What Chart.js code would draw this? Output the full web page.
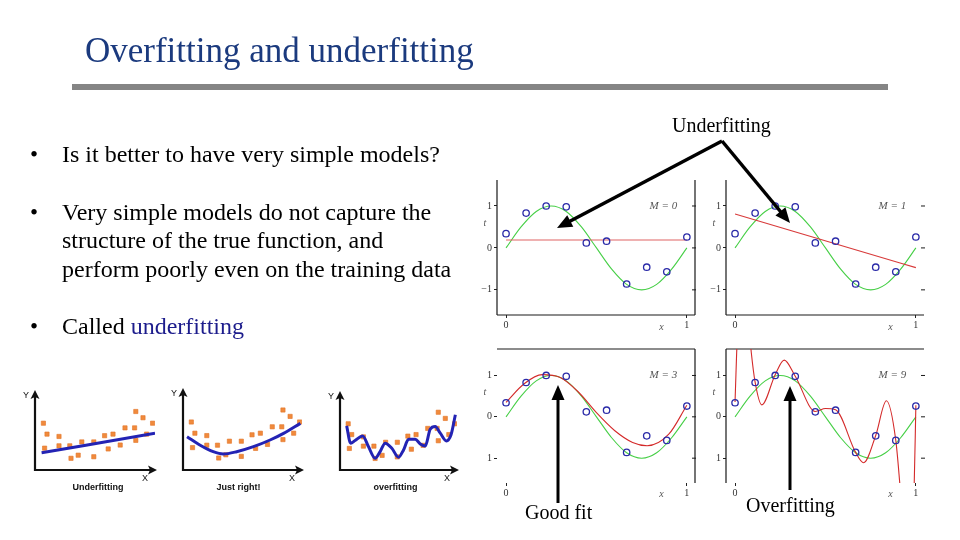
<!DOCTYPE html>
<html>
<head>
<meta charset="utf-8">
<script src="https://cdn.jsdelivr.net/npm/chart.js@4"></script>
<style>
  body { margin:0; width:960px; height:540px; overflow:hidden; position:relative; background:#fff;
         font-family:'Liberation Serif','Times New Roman',serif; }
  .t { position:absolute; white-space:nowrap; line-height:1; color:#000; z-index:6; }
  canvas { position:absolute; }
</style>
</head>
<body>
<div class="t" style="left:85px;top:33px;font-size:35px;color:#1b3a7e">Overfitting and underfitting</div>
<div style="position:absolute;left:72px;top:84px;width:816px;height:6px;background:#858585"></div>

<div class="t" style="left:30px;top:143px;font-size:23px">•</div>
<div class="t" style="left:62px;top:142px;font-size:24px">Is it better to have very simple models?</div>
<div class="t" style="left:30px;top:201px;font-size:23px">•</div>
<div class="t" style="left:62px;top:200px;font-size:24px">Very simple models do not capture the</div>
<div class="t" style="left:62px;top:228px;font-size:24px">structure of the true function, and</div>
<div class="t" style="left:62px;top:257px;font-size:24px">perform poorly even on the training data</div>
<div class="t" style="left:30px;top:315px;font-size:23px">•</div>
<div class="t" style="left:62px;top:314px;font-size:24px">Called <span style="color:#1c1c8c">underfitting</span></div>

<div class="t" style="left:672px;top:115px;font-size:20px">Underfitting</div>
<div class="t" style="left:525px;top:502px;font-size:20px">Good fit</div>
<div class="t" style="left:746px;top:495px;font-size:20px">Overfitting</div>

<canvas id="m0" width="225" height="165" style="left:478px;top:172px"></canvas>
<canvas id="m1" width="225" height="165" style="left:707px;top:172px"></canvas>
<canvas id="m3" width="225" height="165" style="left:478px;top:341px"></canvas>
<canvas id="m9" width="225" height="165" style="left:707px;top:341px"></canvas>

<canvas id="s1" width="145" height="115" style="left:20px;top:380px"></canvas>
<canvas id="s2" width="145" height="115" style="left:170px;top:380px"></canvas>
<canvas id="s3" width="145" height="115" style="left:320px;top:380px"></canvas>

<canvas id="arrows" width="960" height="540" style="left:0;top:0;z-index:5"></canvas>

<script>
// training points (blue circles)
const trainX = [0, 0.111, 0.222, 0.333, 0.444, 0.556, 0.667, 0.778, 0.889, 1];
const trainT = [0.34, 0.83, 1.0, 0.98, 0.12, 0.16, -0.86, -0.46, -0.57, 0.26];
// true function (green)
const trueX = [0, 0.083, 0.167, 0.25, 0.333, 0.417, 0.5, 0.583, 0.667, 0.75, 0.833, 0.917, 1];
const trueT = [0, 0.5, 0.87, 1, 0.87, 0.5, 0, -0.5, -0.87, -1, -0.87, -0.5, 0];
// fitted polynomials (red)
const fit0X = [0, 1];
const fit0Y = [0.19, 0.19];
const fit1X = [0, 1];
const fit1Y = [0.81, -0.47];
const fit3X = [0, 0.1, 0.2, 0.3, 0.4, 0.5, 0.6, 0.7, 0.78, 0.9, 1];
const fit3Y = [0.35, 0.8, 1.02, 0.95, 0.6, 0.1, -0.33, -0.62, -0.7, -0.42, 0.28];
const fit9X = [0, 0.015, 0.05, 0.09, 0.111, 0.148, 0.222, 0.272, 0.333, 0.444, 0.5, 0.556, 0.667, 0.711, 0.778, 0.837, 0.889, 0.915, 0.95, 0.99, 1];
const fit9Y = [0.36, 2.2, 3.5, 1.55, 0.84, 0.29, 1.02, 1.37, 0.98, 0.13, 0.2, 0.17, -0.86, -1.11, -0.45, 0.39, -0.57, -1.8, -3.5, -1.8, 0.28];
const yTicks = [-1, 0, 1];
const xTicks = [0, 1];

// small sketches: orange squares shared, blue fits
const sqX = [0.7, 1.0, 0.8, 2.0, 2.0, 2.9, 3.0, 3.6, 3.9, 4.9, 4.9, 5.8, 6.1, 6.5, 7.1, 7.5, 8.3, 8.4, 8.4, 9.0, 9.3, 9.8];
const sqY = [6.0, 4.6, 2.8, 4.3, 3.1, 3.1, 1.5, 1.9, 3.6, 3.6, 1.7, 4.4, 2.7, 4.6, 3.2, 5.4, 5.4, 3.8, 7.5, 6.7, 4.6, 6.0];
const underX = [0.55, 10];
const underY = [2.2, 4.7];
const rightX = [0.34, 1.41, 2.54, 3.38, 4.51, 5.92, 7.32, 8.45, 9.86];
const rightY = [4.17, 3.13, 2.29, 2.0, 2.29, 2.92, 3.75, 4.58, 5.83];
const overX = [0.57, 0.91, 1.29, 1.94, 2.43, 3.0, 3.43, 3.86, 4.43, 5.0, 5.43, 5.86, 6.43, 6.86, 7.29, 7.71, 8.14, 8.57, 9.09, 9.49, 9.86];
const overY = [5.74, 3.48, 3.83, 4.43, 3.04, 1.52, 2.39, 3.48, 2.83, 1.65, 2.61, 4.0, 4.0, 3.39, 3.13, 5.3, 5.65, 4.78, 3.78, 4.57, 7.17];

const pts = (xs, ys) => xs.map((x, i) => ({x, y: ys[i]}));
Chart.defaults.font.family = "'Liberation Serif', serif";

// frame lines, right ticks and in-panel labels
const deco = {
    id: 'deco',
    beforeDatasetsDraw(chart, args, o) {
        const {ctx, chartArea: a, scales: {x, y}} = chart;
        ctx.save();
        ctx.strokeStyle = '#1a1a1a'; ctx.lineWidth = 1.2;
        ctx.beginPath();
        if (o.left) { ctx.moveTo(a.left, a.top); ctx.lineTo(a.left, a.bottom); }
        if (o.right) { ctx.moveTo(a.right, a.top); ctx.lineTo(a.right, a.bottom); }
        if (o.top) { ctx.moveTo(a.left, a.top); ctx.lineTo(a.right, a.top); }
        if (o.bottom) { ctx.moveTo(a.left, a.bottom); ctx.lineTo(a.right, a.bottom); }
        ctx.stroke();
        ctx.lineWidth = 1; ctx.beginPath();
        yTicks.forEach(v => { const py = y.getPixelForValue(v); ctx.moveTo(a.right - 3, py); ctx.lineTo(a.right + 1, py); });
        ctx.stroke();
        ctx.fillStyle = '#555'; ctx.textAlign = 'center'; ctx.textBaseline = 'middle';
        ctx.font = "italic 11px 'Liberation Serif'";
        ctx.fillText(o.label, x.getPixelForValue(0.87), y.getPixelForValue(1));
        ctx.font = "italic 10px 'Liberation Serif'";
        ctx.fillText('x', x.getPixelForValue(0.86), a.bottom + o.xLabelDy);
        ctx.fillText('t', a.left - 12, y.getPixelForValue(0.58));
        ctx.restore();
    }
};

function panel(id, fitX, fitY, label, o) {
    return new Chart(document.getElementById(id), {
        type: 'scatter',
        data: { datasets: [
            { data: pts(trainX, trainT), pointRadius: 3.2, pointBorderWidth: 1.3, pointBorderColor: '#2a2aa8', pointBackgroundColor: 'rgba(0,0,0,0)' },
            { data: pts(fitX, fitY), showLine: true, borderColor: o.red, borderWidth: 1.1, pointRadius: 0, cubicInterpolationMode: 'monotone' },
            { data: pts(trueX, trueT), showLine: true, borderColor: '#46cf46', borderWidth: 1.1, pointRadius: 0, cubicInterpolationMode: 'monotone' }
        ]},
        options: {
            responsive: false, animation: false, events: [],
            layout: { padding: { top: 3 } },
            plugins: { legend: { display: false }, tooltip: { enabled: false },
                       deco: Object.assign({ label: label }, o.frame) },
            scales: {
                x: { type: 'linear', min: -0.05, max: 1.045,
                     afterBuildTicks: s => { s.ticks = xTicks.map(v => ({value: v})); },
                     afterFit: s => { s.height = o.xh; },
                     border: { display: false },
                     grid: { drawOnChartArea: false, drawTicks: true, tickLength: 3, color: '#222' },
                     ticks: { color: '#333', font: { size: 10 }, padding: 1, maxRotation: 0 } },
                y: { type: 'linear', min: o.ymin, max: o.ymax,
                     afterBuildTicks: s => { s.ticks = yTicks.map(v => ({value: v})); },
                     afterFit: s => { s.width = 19; },
                     border: { display: false },
                     grid: { drawOnChartArea: false, drawTicks: true, tickLength: 3, color: '#222' },
                     ticks: { color: '#333', font: { size: 10 }, padding: 2,
                              callback: v => v < 0 ? o.neg : String(v) } },
                y2: { type: 'linear', position: 'right', min: o.ymin, max: o.ymax, display: true,
                      afterFit: s => { s.width = 8; },
                      border: { display: false }, grid: { display: false }, ticks: { display: false } }
            }
        },
        plugins: [deco]
    });
}

panel('m0', fit0X, fit0Y, 'M = 0', { red: '#e06464', xh: 22, ymin: -1.6, ymax: 1.62, neg: '−1',
      frame: { left: true, right: true, bottom: true, xLabelDy: 12 } });
panel('m1', fit1X, fit1Y, 'M = 1', { red: '#d83a3a', xh: 22, ymin: -1.6, ymax: 1.62, neg: '−1',
      frame: { left: true, bottom: true, xLabelDy: 12 } });
panel('m3', fit3X, fit3Y, 'M = 3', { red: '#d42a2a', xh: 23, ymin: -1.6, ymax: 1.64, neg: '1',
      frame: { top: true, right: true, xLabelDy: 11 } });
panel('m9', fit9X, fit9Y, 'M = 9', { red: '#d42a2a', xh: 23, ymin: -1.6, ymax: 1.64, neg: '1',
      frame: { top: true, left: true, xLabelDy: 11 } });

// arrow axes + captions for the little sketches
const sketchAxes = {
    id: 'sketchAxes',
    afterDraw(chart, args, o) {
        const {ctx, chartArea: a} = chart;
        ctx.save();
        ctx.strokeStyle = '#111'; ctx.fillStyle = '#111'; ctx.lineWidth = 2.2;
        ctx.beginPath();
        ctx.moveTo(a.left, a.top + 5); ctx.lineTo(a.left, a.bottom); ctx.lineTo(a.right - 5, a.bottom);
        ctx.stroke();
        ctx.beginPath();
        ctx.moveTo(a.left, a.top - 2); ctx.lineTo(a.left - 4.5, a.top + 7); ctx.lineTo(a.left, a.top + 5); ctx.lineTo(a.left + 4.5, a.top + 7); ctx.closePath();
        ctx.moveTo(a.right + 2, a.bottom); ctx.lineTo(a.right - 7, a.bottom - 4.5); ctx.lineTo(a.right - 5, a.bottom); ctx.lineTo(a.right - 7, a.bottom + 4.5); ctx.closePath();
        ctx.fill();
        ctx.font = "9px 'Liberation Sans'"; ctx.textAlign = 'center'; ctx.textBaseline = 'middle';
        ctx.fillText('Y', a.left - 9, a.top + 4);
        ctx.fillText('X', a.right - 10, a.bottom + 9);
        ctx.font = "bold 9px 'Liberation Sans'";
        ctx.fillText(o.caption, (a.left + a.right) / 2 + o.dx, a.bottom + 18);
        ctx.restore();
    }
};

function sketch(id, lx, ly, caption, pad, dx) {
    return new Chart(document.getElementById(id), {
        type: 'scatter',
        data: { datasets: [
            { data: pts(lx, ly), showLine: true, borderColor: '#2323b4', borderWidth: 3, pointRadius: 0, cubicInterpolationMode: 'monotone' },
            { data: pts(sqX, sqY), pointStyle: 'rect', pointRadius: 3, backgroundColor: '#f08a3c', borderColor: '#e27426', borderWidth: 0.6 }
        ]},
        options: {
            responsive: false, animation: false, events: [],
            layout: { padding: pad },
            plugins: { legend: { display: false }, tooltip: { enabled: false }, sketchAxes: { caption: caption, dx: dx } },
            scales: { x: { type: 'linear', display: false, min: 0, max: 10 },
                      y: { type: 'linear', display: false, min: 0, max: 10 } }
        },
        plugins: [sketchAxes]
    });
}

sketch('s1', underX, underY, 'Underfitting', { left: 15, top: 12, right: 10, bottom: 25 }, 3);
sketch('s2', rightX, rightY, 'Just right!', { left: 13, top: 10, right: 13, bottom: 25 }, -4);
sketch('s3', overX, overY, 'overfitting', { left: 20, top: 13, right: 8, bottom: 25 }, -3);

// annotation arrows
const ac = document.getElementById('arrows').getContext('2d');
function arrow(x1, y1, x2, y2, w) {
    const ang = Math.atan2(y2 - y1, x2 - x1), L = 15, H = 6.5;
    ac.lineWidth = w; ac.strokeStyle = '#000'; ac.fillStyle = '#000';
    ac.beginPath(); ac.moveTo(x1, y1);
    ac.lineTo(x2 - Math.cos(ang) * (L - 2), y2 - Math.sin(ang) * (L - 2)); ac.stroke();
    ac.beginPath(); ac.moveTo(x2, y2);
    ac.lineTo(x2 - L * Math.cos(ang) + H * Math.sin(ang), y2 - L * Math.sin(ang) - H * Math.cos(ang));
    ac.lineTo(x2 - L * Math.cos(ang) - H * Math.sin(ang), y2 - L * Math.sin(ang) + H * Math.cos(ang));
    ac.closePath(); ac.fill();
}
ac.lineJoin = 'miter';
arrow(722, 141, 557, 228, 3.5);
arrow(722, 141, 790, 223, 3.5);
arrow(558, 503, 558, 385, 3);
arrow(790, 490, 790, 386, 3);
</script>
</body>
</html>
